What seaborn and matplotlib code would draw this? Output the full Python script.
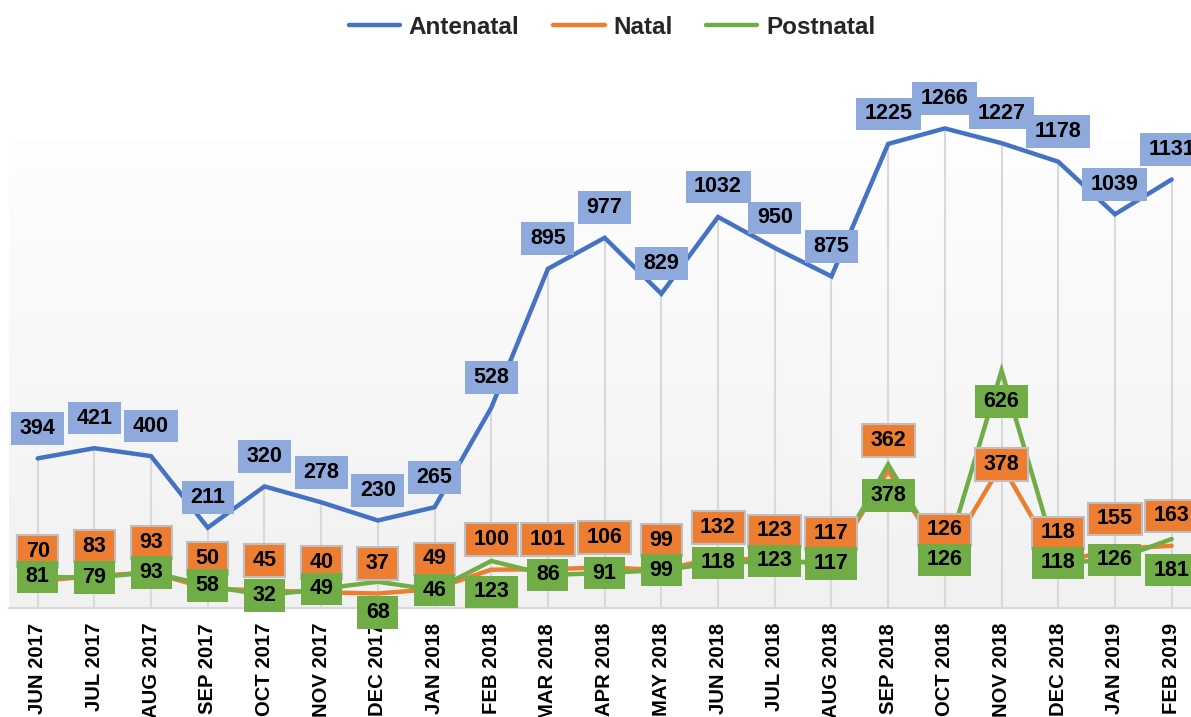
import numpy as np
import pandas as pd
import matplotlib
matplotlib.use("Agg")
import matplotlib.pyplot as plt
import seaborn as sns
from matplotlib.colors import LinearSegmentedColormap
from matplotlib.path import Path
from matplotlib.lines import Line2D

months = ["JUN 2017", "JUL 2017", "AUG 2017", "SEP 2017", "OCT 2017", "NOV 2017",
          "DEC 2017", "JAN 2018", "FEB 2018", "MAR 2018", "APR 2018", "MAY 2018",
          "JUN 2018", "JUL 2018", "AUG 2018", "SEP 2018", "OCT 2018", "NOV 2018",
          "DEC 2018", "JAN 2019", "FEB 2019"]
antenatal = [394, 421, 400, 211, 320, 278, 230, 265, 528, 895, 977, 829,
             1032, 950, 875, 1225, 1266, 1227, 1178, 1039, 1131]
natal = [70, 83, 93, 50, 45, 40, 37, 49, 100, 101, 106, 99,
         132, 123, 117, 362, 126, 378, 118, 155, 163]
postnatal = [81, 79, 93, 58, 32, 49, 68, 46, 123, 86, 91, 99,
             118, 123, 117, 378, 126, 626, 118, 126, 181]
series_names = ["Antenatal", "Natal", "Postnatal"]

# label placement (pixel offsets of label centre from the point)
ante_off = [30] * len(months)
nat_off = [30] * len(months)
nat_off[17] = 0
post_off = [0] * len(months)
for i in (6, 8, 15, 17, 20):
    post_off[i] = -31

sns.set_theme(style="white")
plt.rcParams["font.family"] = ["Liberation Sans", "DejaVu Sans"]

W, H = 1191, 717
fig = plt.figure(figsize=(W / 100, H / 100), dpi=100)
ax = fig.add_axes([9.3 / W, (H - 607.5) / H, 1190.7 / W, (607.5 - 139) / H])

x = np.arange(len(months))
df = pd.DataFrame({
    "x": np.tile(x, 3),
    "value": antenatal + natal + postnatal,
    "series": np.repeat(series_names, len(months)),
})
palette = {"Antenatal": "#4472C4", "Natal": "#ED7D31", "Postnatal": "#70AD47"}

# gradient background
cmap = LinearSegmentedColormap.from_list("bg", ["#f1f1f1", "#fefefe"])
ax.imshow(np.linspace(0, 1, 256).reshape(-1, 1), extent=[0, 1, 0, 1],
          transform=ax.transAxes, cmap=cmap, aspect="auto", origin="lower", zorder=0)

# drop lines
tops = np.max(np.array([antenatal, natal, postnatal]), axis=0)
dl = ax.vlines(x, 0, tops, colors="#d9d9d9", lw=1.5, zorder=1)
dl.set_clip_on(False)

sns.lineplot(data=df, x="x", y="value", hue="series", palette=palette,
             linewidth=3.2, ax=ax, sort=False, legend=False, zorder=3)
for ln in ax.lines:
    ln.set_clip_on(False)
    ln.set_solid_capstyle("round")
    ln.set_solid_joinstyle("miter")

ax.set_xlim(-0.5, 20.5)
ax.set_ylim(0, 1238)


def label_box(x0, y0, width, height, mutation_size):
    px = 0.40 * mutation_size
    py = 0.27 * mutation_size
    xa, xb = x0 - px, x0 + width + px
    ya, yb = y0 - py, y0 + height + py
    return Path([(xa, ya), (xb, ya), (xb, yb), (xa, yb), (xa, ya)], closed=True)


def labels(vals, offs, face, edge, z):
    for xi, v, o in zip(x, vals, offs):
        ax.annotate(f"{v}", (xi, v), xytext=(0, o), textcoords="offset pixels",
                    ha="center", va="center", fontsize=15.5, fontweight="bold",
                    color="black", zorder=z, annotation_clip=False,
                    bbox=dict(boxstyle=label_box, fc=face,
                              ec=edge if edge else face, lw=1.5 if edge else 0))


labels(antenatal, ante_off, "#8EA9DB", None, 8)
labels(natal, nat_off, "#ED7D31", "#BFBFBF", 6)
labels(postnatal, post_off, "#70AD47", None, 7)

for s in ["left", "right", "top"]:
    ax.spines[s].set_visible(False)
ax.spines["bottom"].set_color("#d9d9d9")
ax.spines["bottom"].set_linewidth(1.6)
ax.set_yticks([])
ax.set_xticks(x)
ax.set_xticklabels(months, rotation=90, fontsize=14.6, fontweight="bold", color="black")
ax.tick_params(axis="x", length=0, pad=11)
ax.set_xlabel("")
ax.set_ylabel("")

handles = [Line2D([0], [0], color=palette[n], lw=3.2, solid_capstyle="round") for n in series_names]
fig.legend(handles, series_names, loc="center", bbox_to_anchor=(0.514, 0.962), ncol=3,
           frameon=False, prop=dict(weight="bold", size=17.5), handlelength=2.1,
           handletextpad=0.35, columnspacing=1.4)

fig.savefig("out.png", dpi=100)
